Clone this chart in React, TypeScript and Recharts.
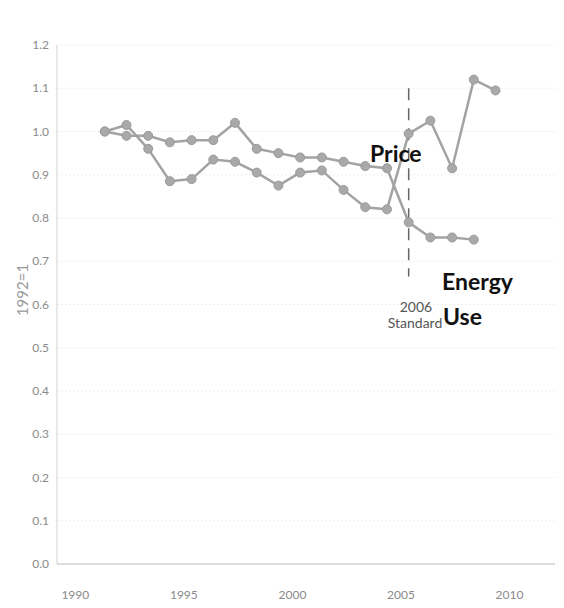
import React from 'react';
import { LineChart, Line, XAxis, YAxis, CartesianGrid, ReferenceLine } from 'recharts';

const years = [1992, 1993, 1994, 1995, 1996, 1997, 1998, 1999, 2000, 2001, 2002, 2003, 2004, 2005, 2006, 2007, 2008, 2009, 2010];
const price = [1.0, 1.015, 0.96, 0.885, 0.89, 0.935, 0.93, 0.905, 0.875, 0.905, 0.91, 0.865, 0.825, 0.82, 0.995, 1.025, 0.915, 1.12, 1.095];
const energyUse = [1.0, 0.99, 0.99, 0.975, 0.98, 0.98, 1.02, 0.96, 0.95, 0.94, 0.94, 0.93, 0.92, 0.915, 0.79, 0.755, 0.755, 0.75];
const xTicks = [1990, 1995, 2000, 2005, 2010];
const yTicks = [0, 0.1, 0.2, 0.3, 0.4, 0.5, 0.6, 0.7, 0.8, 0.9, 1.0, 1.1, 1.2];
const standardYear = 2006;

const data = years.map((y, i) => ({
  year: y,
  price: price[i],
  energy: i < energyUse.length ? energyUse[i] : null,
}));

const FONT = 'Lato, "Open Sans", sans-serif';

const XTick = (props: any) => {
  const { x, y, payload } = props;
  return (
    <text x={x + 14} y={y + 35} textAnchor="middle" fontFamily={FONT} fontSize={12} fill="#8a8a8a">
      {payload.value}
    </text>
  );
};

const YTick = (props: any) => {
  const { x, y, payload } = props;
  return (
    <text x={x - 8} y={y + 4} textAnchor="end" fontFamily={FONT} fontSize={12} fill="#8a8a8a">
      {Number(payload.value).toFixed(1)}
    </text>
  );
};

const dotStyle = { r: 4.5, fill: '#a9a9a9', stroke: '#9a9a9a', strokeWidth: 1 };

export default function App() {
  const W = 556;
  const H = 600;
  return (
    <div style={{ position: 'relative', width: W, height: H }}>
      <LineChart width={W} height={H} data={data} margin={{ top: 37, right: 9, left: 0, bottom: 0 }}>
        <CartesianGrid vertical={false} stroke="#eeeeee" strokeDasharray="2 2" />
        <XAxis
          dataKey="year"
          type="number"
          domain={[1989.8, 2012.74]}
          ticks={xTicks}
          allowDataOverflow
          height={44}
          tickLine={false}
          tickSize={0}
          tickMargin={0}
          axisLine={{ stroke: '#bdbdbd' }}
          tick={<XTick />}
        />
        <YAxis
          domain={[0, 1.2]}
          ticks={yTicks}
          width={49}
          tickLine={false}
          tickSize={0}
          tickMargin={0}
          axisLine={{ stroke: '#d2d2d2' }}
          tick={<YTick />}
        />
        <ReferenceLine
          segment={[{ x: standardYear, y: 1.1 }, { x: standardYear, y: 0.665 }]}
          stroke="#666"
          strokeWidth={1.5}
          strokeDasharray="12 8"
        />
        <Line type="linear" dataKey="energy" stroke="#a3a3a3" strokeWidth={2.5} dot={dotStyle} isAnimationActive={false} connectNulls={false} />
        <Line type="linear" dataKey="price" stroke="#a3a3a3" strokeWidth={2.5} dot={dotStyle} isAnimationActive={false} />
      </LineChart>
      <svg width={W} height={H} style={{ position: 'absolute', left: 0, top: 0, pointerEvents: 'none' }}>
        <text x={362} y={154} fontFamily={FONT} fontWeight={700} fontSize={23} fill="#111">Price</text>
        <text x={434} y={282} fontFamily={FONT} fontWeight={700} fontSize={23} fill="#111">Energy</text>
        <text x={435} y={317} fontFamily={FONT} fontWeight={700} fontSize={23} fill="#111">Use</text>
        <text x={408} y={304} textAnchor="middle" fontFamily={FONT} fontSize={14} fill="#555">2006</text>
        <text x={407} y={320} textAnchor="middle" fontFamily={FONT} fontSize={14} fill="#555">Standard</text>
        <text x={14} y={282} transform="rotate(-90 14 282)" textAnchor="middle" dominantBaseline="central" fontFamily={FONT} fontSize={15} fill="#999">1992=1</text>
      </svg>
    </div>
  );
}
